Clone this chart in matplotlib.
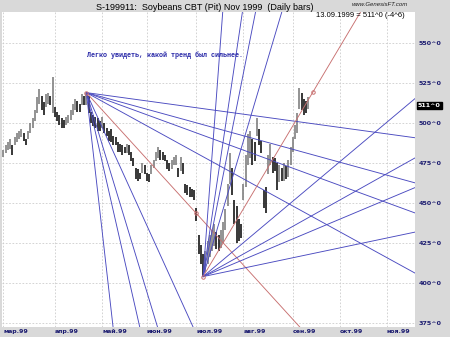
import matplotlib.pyplot as plt
import numpy as np

# дневные бары, индекс 0 = 01.03.1999 (торговые дни), первый бар = -1
first_bar = -1
highs = [482, 483, 486, 488, 490, 486, 491, 494, 495, 496, 494, 490, 495, 500, 503, 508, 516, 521, 517, 513,
         518, 519, 517, 529, 510, 507, 505, 503, 502, 504, 505, 508, 512, 515, 514, 512, 518, 517, 519,
         517, 507, 505, 504, 503, 501, 504, 500, 497, 495, 496, 492, 491, 488, 487, 486, 485, 487, 486, 482,
         478, 472, 471, 469, 475, 474, 469, 468, 474, 477, 482, 485, 483, 482, 480, 477, 475, 477, 479, 480,
         472, 479, 475, 462, 461, 460, 459, 458, 447, 430, 424,
         418, 420, 426, 430, 433, 437, 432, 430, 433, 438, 446, 462, 481, 472, 452, 448, 440, 437, 462, 480,
         493, 495, 490, 488, 503, 496, 489, 458, 460, 480, 487, 479, 478, 475, 474, 472, 475, 473, 477, 485,
         491, 499, 506, 522, 519, 515, 514, 516]
lows = [478, 479, 481, 483, 484, 480, 486, 488, 490, 491, 489, 486, 490, 494, 497, 501, 506, 512, 508, 505,
        510, 512, 511, 506, 504, 501, 499, 497, 497, 499, 500, 502, 505, 508, 507, 507, 511, 511, 511,
        506, 500, 498, 497, 495, 495, 497, 494, 492, 489, 488, 486, 486, 482, 482, 480, 481, 481, 480, 476,
        473, 465, 464, 465, 469, 468, 464, 463, 468, 472, 476, 478, 477, 477, 476, 471, 470, 471, 474, 474,
        466, 470, 468, 456, 455, 454, 454, 452, 439, 418, 412,
        404, 407, 412, 416, 420, 423, 421, 420, 422, 425, 433, 448, 462, 455, 437, 425, 426, 428, 452, 460,
        474, 478, 474, 476, 492, 486, 481, 447, 444, 468, 474, 469, 470, 458, 463, 464, 464, 465, 466, 474,
        482, 490, 494, 509, 508, 505, 506, 509]

month_idx = [0, 23, 44, 64, 86, 107, 129, 150, 171]
month_lbl = ['мар.99', 'апр.99', 'май.99', 'июн.99', 'июл.99', 'авг.99', 'сен.99', 'окт.99', 'ноя.99']
price_ticks = [375, 400, 425, 450, 475, 500, 525, 550]
price_lbl = ['375^0', '400^0', '425^0', '450^0', '475^0', '500^0', '525^0', '550^0']

# веера Ганна
top_pivot = (37, 519)
low_pivot = (89, 404)
top_slope = -1.54
low_slope = 2.355
gann_ratios = [8, 4, 3, 2, 1, 1 / 2, 1 / 3, 1 / 4, 1 / 8]
mark_dist = 49
last_close = 511

blue = '#4a4ac0'
red = '#c87070'
navy = '#1c1c70'

fig = plt.figure(figsize=(4.5, 3.37), dpi=100)
fig.patch.set_facecolor('#d9d9d9')
ax = fig.add_axes([2 / 450, 1 - 327 / 337, 413 / 450, 315 / 337])
ax.set_facecolor('white')
ax.set_xlim(-0.62, 183.5)
ax.set_ylim(372.5, 569.4)

idx = np.arange(first_bar, first_bar + len(highs))
hi = np.array(highs)
lo = np.array(lows)
mid = (hi + lo) / 2
up = np.r_[False, mid[1:] > mid[:-1]]
ax.vlines(idx[up], lo[up], hi[up], color='#808080', lw=1.2, zorder=3)
ax.vlines(idx[~up], lo[~up], hi[~up], color='#151515', lw=1.2, zorder=3)

xs = np.array([0, 300])
for (px, py), s in [(top_pivot, top_slope), (low_pivot, low_slope)]:
    for r in gann_ratios:
        c = red if r == 1 else blue
        ax.plot(px + xs, py + s * r * xs, color=c, lw=0.65, zorder=4)
    ax.plot(px, py, 'o', ms=2.5, mfc='none', mec=red, mew=0.7, zorder=5)
    ax.plot(px + mark_dist, py + s * mark_dist, 'o', ms=2.5, mfc='none', mec=red, mew=0.7, zorder=5)

ax.set_xticks(month_idx)
ax.set_xticklabels(month_lbl, ha='left', fontsize=4.5, fontweight='bold', color=navy)
ax.set_yticks(price_ticks)
ax.set_yticklabels(price_lbl, fontsize=4.6, fontweight='bold', color=navy)
ax.yaxis.tick_right()
ax.tick_params(axis='both', length=0)
ax.tick_params(axis='y', pad=2.5)
ax.tick_params(axis='x', pad=1.5)
ax.grid(True, color='#cccccc', ls=(0, (2, 2)), lw=0.6)
for sp in ax.spines.values():
    sp.set_visible(False)

ax.annotate('%d^0' % last_close, xy=(1.0, last_close), xycoords=('axes fraction', 'data'),
            xytext=(2, 0), textcoords='offset points', va='center', ha='left',
            fontsize=4.6, fontweight='bold', color='white',
            bbox=dict(boxstyle='square,pad=0.15', fc='black', ec='black'))

fig.text(205 / 450, 1 - 7 / 337, 'S-199911:  Soybeans CBT (Pit) Nov 1999  (Daily bars)',
         ha='center', va='center', fontsize=6.5, family='Liberation Sans')
fig.text(408 / 450, 1 - 5 / 337, 'www.GenesisFT.com', ha='right', va='center',
         fontsize=4.3, style='italic', family='Liberation Sans', color='#202020')
fig.text(405 / 450, 1 - 15.5 / 337, '13.09.1999 = 511^0 (-4^6)', ha='right', va='center',
         fontsize=5.5, family='Liberation Sans')
fig.text(87 / 450, 1 - 55 / 337, 'Легко увидеть, какой тренд был сильнее.', ha='left', va='center',
         fontsize=4.9, fontweight='bold', family='Liberation Mono', color='#2828a8')

fig.savefig('out.png', dpi=100, facecolor=fig.get_facecolor())
